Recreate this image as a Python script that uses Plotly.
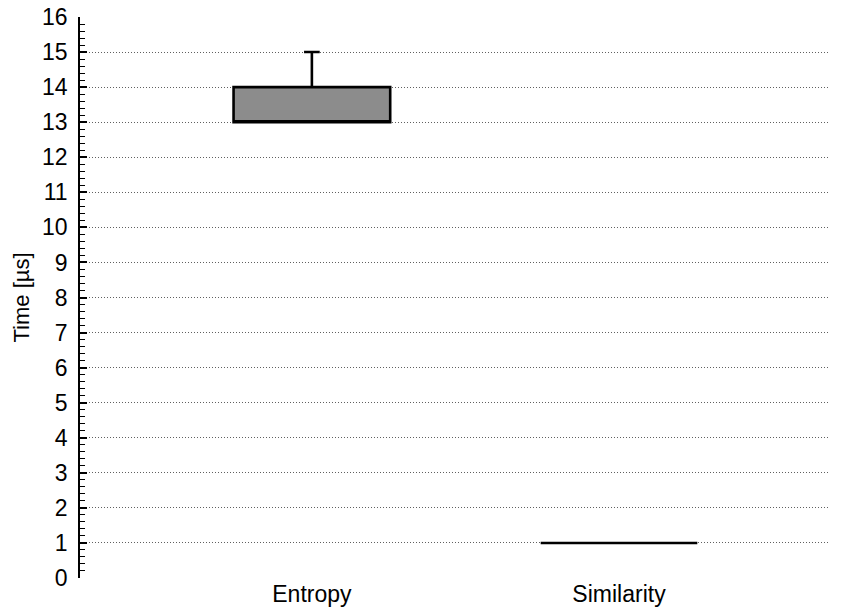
import plotly.graph_objects as go

categories = ["Entropy", "Similarity"]
q1 = [13, 1]
median = [13, 1]
q3 = [14, 1]
lowerfence = [13, 1]
upperfence = [15, 1]
yticks = list(range(0, 17))

fig = go.Figure()
fig.add_trace(go.Box(
    x=categories, q1=q1, median=median, q3=q3,
    lowerfence=lowerfence, upperfence=upperfence,
    fillcolor="#8c8c8c", line=dict(color="black", width=2.6),
    whiskerwidth=0.1, width=0.51, boxpoints=False, showlegend=False,
    hoverinfo="y",
))

fig.update_layout(
    width=843, height=615,
    margin=dict(l=80, r=13, t=17, b=37),
    plot_bgcolor="white", paper_bgcolor="white",
    font=dict(family="Liberation Sans, Arial, sans-serif", size=20, color="black"),
    xaxis=dict(
        range=[-0.755, 1.687], showgrid=False, zeroline=False, showline=False,
        ticks="", tickfont=dict(size=23), automargin=False,
    ),
    yaxis=dict(
        range=[0, 16], tickvals=yticks, showgrid=True, gridcolor="#606060",
        griddash="1px,2px", gridwidth=1, zeroline=False,
        showline=True, linecolor="black", linewidth=1.5,
        ticks="inside", ticklen=7, tickcolor="black", tickwidth=1.5,
        ticklabelstandoff=6, automargin=False,
        minor=dict(dtick=0.2, ticks="inside", ticklen=5, tickcolor="black", tickwidth=1, showgrid=False),
        title=dict(text="Time [µs]", font=dict(size=22), standoff=6),
        tickfont=dict(size=23),
    ),
)

fig.write_html("out.html")
